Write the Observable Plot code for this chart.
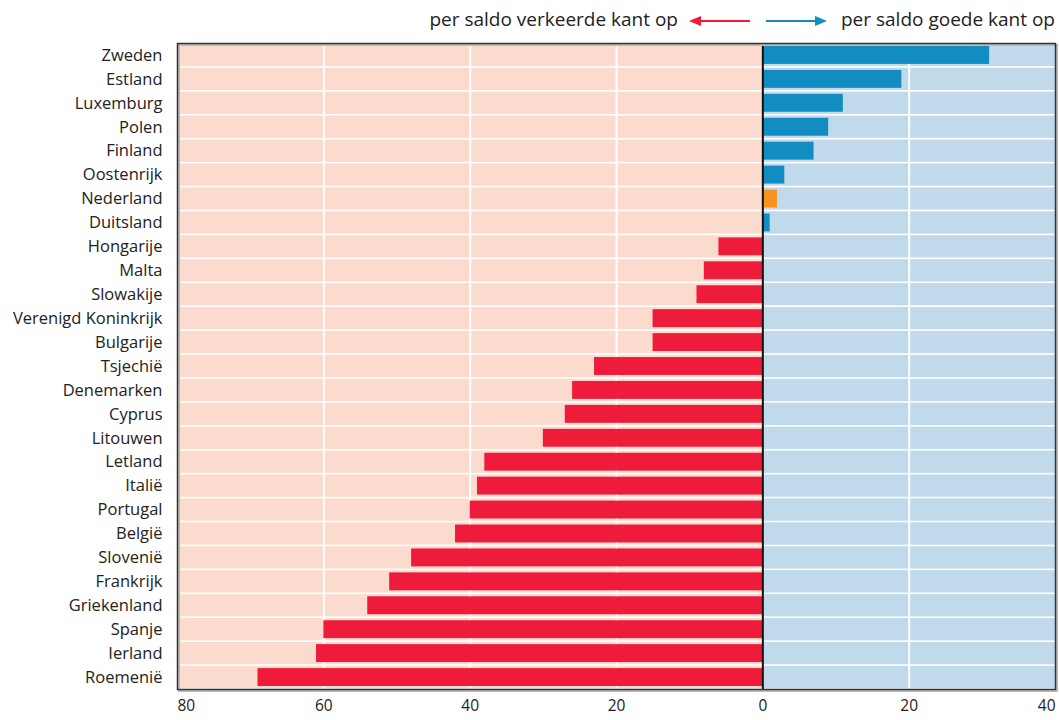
<!DOCTYPE html>
<html>
<head>
<meta charset="utf-8">
<script src="https://cdn.jsdelivr.net/npm/d3@7"></script>
<script src="https://cdn.jsdelivr.net/npm/@observablehq/plot@0.6"></script>
<style>
  body { margin: 0; background: #fff; font-family: "Open Sans", sans-serif; }
  #legend { position: relative; height: 36px; width: 1059px; font-size: 19px; color: #222; }
  #legend .l { position: absolute; right: 381px; top: 6px; white-space: nowrap; }
  #legend .r { position: absolute; left: 841px; top: 6px; white-space: nowrap; }
  #legend svg { position: absolute; left: 688px; top: 13px; }
</style>
</head>
<body>
<div id="legend">
  <span class="l">per saldo verkeerde kant op</span>
  <svg width="145" height="16">
    <line x1="10" y1="8" x2="62" y2="8" stroke="#EE1C3A" stroke-width="2"/>
    <path d="M1,8 L13,3 L13,13 Z" fill="#EE1C3A"/>
    <line x1="78" y1="8" x2="128" y2="8" stroke="#118DC2" stroke-width="2"/>
    <path d="M139,8 L127,3 L127,13 Z" fill="#118DC2"/>
  </svg>
  <span class="r">per saldo goede kant op</span>
</div>
<div id="chart"></div>
<script>
const countries = ["Zweden","Estland","Luxemburg","Polen","Finland","Oostenrijk","Nederland","Duitsland","Hongarije","Malta","Slowakije","Verenigd Koninkrijk","Bulgarije","Tsjechië","Denemarken","Cyprus","Litouwen","Letland","Italië","Portugal","België","Slovenië","Frankrijk","Griekenland","Spanje","Ierland","Roemenië"];
const values = [31,19,11,9,7,3,2,1,-6,-8,-9,-15,-15,-23,-26,-27,-30,-38,-39,-40,-42,-48,-51,-54,-60,-61,-69];
const highlight = "Nederland";
const xTicks = [-80,-60,-40,-20,0,20,40];
const gridTicks = [-60,-40,-20,20];

const data = countries.map((c, i) => ({country: c, value: values[i]}));
const colorOf = d => d.country === highlight ? "#F7941D" : (d.value >= 0 ? "#118DC2" : "#EE1C3A");
const tickText = d => String(Math.abs(d));
const tickOpts = {x: d => d, frameAnchor: "bottom", lineAnchor: "top", dy: 10, text: tickText, fontSize: 15.5, fill: "#222"};

const chart = Plot.plot({
  width: 1059,
  height: 684,
  marginTop: 7,
  marginBottom: 31,
  marginLeft: 177,
  marginRight: 4,
  style: {fontFamily: "Open Sans, sans-serif", fontSize: "16px", color: "#222"},
  x: {domain: [-80, 40], axis: null},
  y: {domain: countries, padding: 0, round: false, label: null},
  marks: [
    Plot.barX(countries, {y: d => d, x1: -80, x2: 0, fill: "#FADBCD", insetTop: 0.8, insetBottom: 0.8}),
    Plot.barX(countries, {y: d => d, x1: 0, x2: 40, fill: "#C0DAEC", insetTop: 0.8, insetBottom: 0.8}),
    Plot.ruleX(gridTicks, {stroke: "#fff", strokeWidth: 2}),
    Plot.barX(data, {y: "country", x1: 0, x2: "value", fill: colorOf, insetTop: 3, insetBottom: 3}),
    Plot.ruleX([0], {stroke: "#111", strokeWidth: 2}),
    Plot.frame({stroke: "#bbb", strokeWidth: 2, dx: 1.5, dy: 1.5}),
    Plot.frame({stroke: "#333", strokeWidth: 1.5}),
    Plot.axisY({tickSize: 0, tickPadding: 15, fontSize: 16.5, label: null}),
    Plot.text(xTicks.filter(t => t > -80 && t < 40), tickOpts),
    Plot.text([-80], {...tickOpts, textAnchor: "start"}),
    Plot.text([40], {...tickOpts, textAnchor: "end"})
  ]
});
document.getElementById("chart").appendChild(chart);
</script>
</body>
</html>
